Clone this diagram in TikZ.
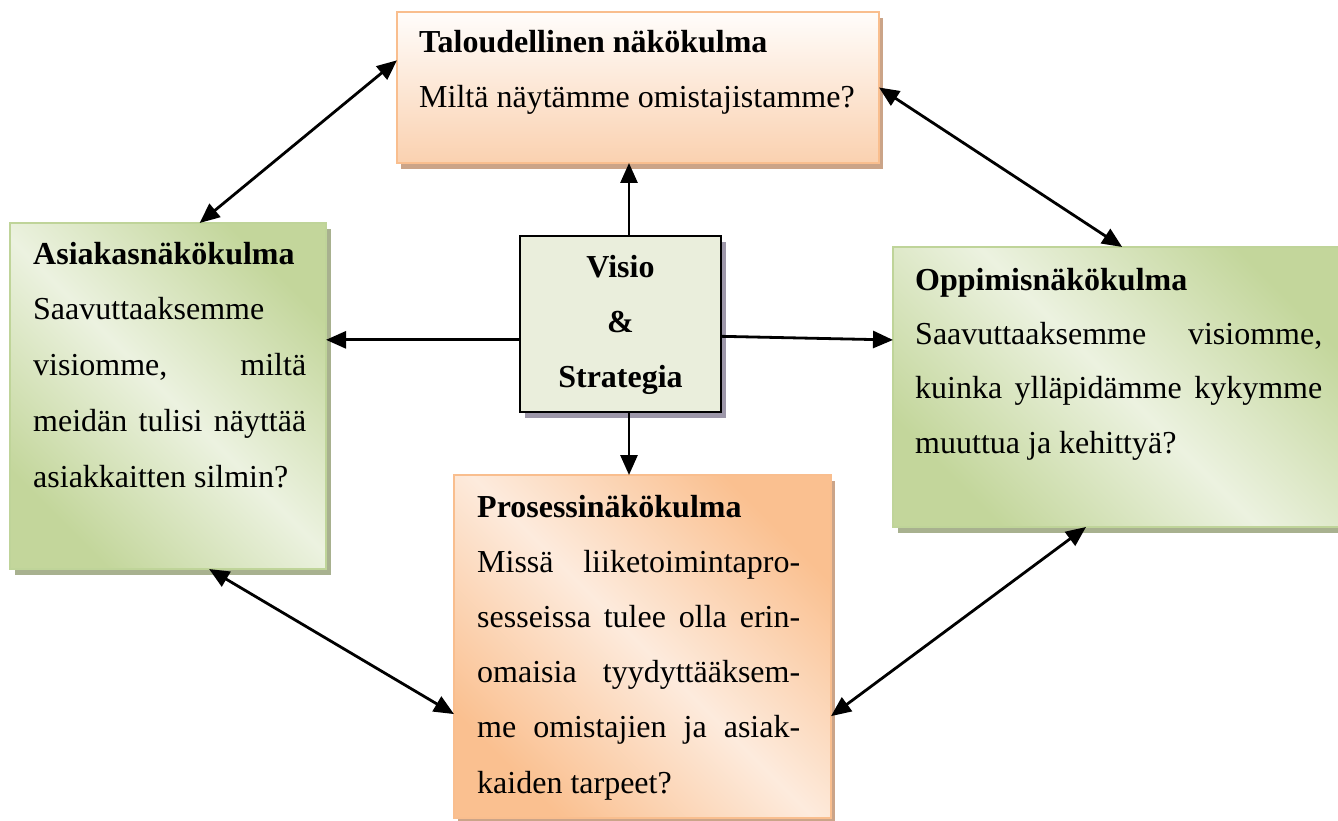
\documentclass[tikz,border=0pt]{standalone}
\usepackage{fontspec}
\setmainfont{Liberation Serif}
\usetikzlibrary{arrows.meta,calc,shadows}

% palette
\definecolor{gdark}{HTML}{C3D69B}
\definecolor{glight}{HTML}{ECF2E0}
\definecolor{gline}{HTML}{BFD499}
\definecolor{gshade}{HTML}{A8B18F}
\definecolor{odark}{HTML}{FAC090}
\definecolor{olight}{HTML}{FDEBDD}
\definecolor{oline}{HTML}{F9BE8E}
\definecolor{oshade}{HTML}{CBA488}
\definecolor{otop}{HTML}{FFFDFB}
\definecolor{obottom}{HTML}{FAD1B0}
\definecolor{cfill}{HTML}{EAEEDC}
\definecolor{cshade}{HTML}{9D97A9}

% corner-to-corner shadings: darker corners, light diagonal band
\pgfdeclarehorizontalshading{greendiag}{100bp}{color(0bp)=(gdark); color(25bp)=(gdark); color(50bp)=(glight); color(75bp)=(gdark); color(100bp)=(gdark)}
\pgfdeclarehorizontalshading{orangediag}{100bp}{color(0bp)=(odark); color(25bp)=(odark); color(50bp)=(olight); color(75bp)=(odark); color(100bp)=(odark)}

\tikzset{
  box/.style={anchor=north west, inner sep=0pt, outer sep=0pt, line width=1.6pt},
  gbox/.style={box, draw=gline, shade, shading=greendiag, shading angle=45,
    drop shadow={shadow xshift=5pt, shadow yshift=-6pt, fill=gshade, opacity=1}},
  obox/.style={box, draw=oline, shade, shading=orangediag, shading angle=45,
    drop shadow={shadow xshift=4pt, shadow yshift=-6pt, fill=oshade, opacity=1}},
  topbox/.style={box, draw=oline, top color=otop, bottom color=obottom,
    drop shadow={shadow xshift=4pt, shadow yshift=-6pt, fill=oshade, opacity=1}},
  corebox/.style={box, draw=black, line width=2.8pt, fill=cfill,
    drop shadow={shadow xshift=5pt, shadow yshift=-6pt, fill=cshade, opacity=1}},
  txt/.style={anchor=base west, inner sep=0pt, font=\fontsize{32}{#1}\selectfont},
  dbl/.style={{Triangle[length=20pt,width=17pt]}-{Triangle[length=20pt,width=17pt]}, line width=2.8pt},
  sgl/.style={-{Triangle[length=20pt,width=17pt]}, line width=2.8pt},
}

\begin{document}
\begin{tikzpicture}[x=1pt,y=-1pt]
\path[use as bounding box, fill=white] (0,0) rectangle (1338,821);

% boxes
\node[topbox, minimum width=482pt, minimum height=151pt] (T) at (397,12) {};
\node[gbox, minimum width=316pt, minimum height=346pt] (L) at (10,223) {};
\node[gbox, minimum width=452pt, minimum height=280pt] (R) at (893,247) {};
\node[obox, minimum width=377pt, minimum height=343pt] (B) at (454,475) {};
\node[corebox, minimum width=201pt, minimum height=176pt] (C) at (520,236) {};

% texts
\node[txt=55] (Ttxt) at (419,53) {\vtop{%
  \hbox{\textbf{Taloudellinen näkökulma}}
  \hbox{Miltä näytämme omistajistamme?}}};

\node[txt=55.75] (Ltxt) at (33,264) {\vtop{%
  \hbox to 273pt{\textbf{Asiakasnäkökulma}\hfil}
  \hbox to 273pt{Saavuttaaksemme\hfil}
  \hbox to 273pt{visiomme,\hfill miltä}
  \hbox to 273pt{meidän\hfill tulisi\hfill näyttää}
  \hbox to 273pt{asiakkaitten silmin?\hfil}}};

\node[txt=54.4] (Rtxt) at (915,290) {\vtop{%
  \hbox to 407pt{\textbf{Oppimisnäkökulma}\hfil}
  \hbox to 407pt{Saavuttaaksemme\hfill visiomme,}
  \hbox to 407pt{kuinka\hfill ylläpidämme\hfill kykymme}
  \hbox to 407pt{muuttua ja kehittyä?\hfil}}};

\node[txt=55.2] (Btxt) at (477,517) {\vtop{%
  \hbox to 323pt{\textbf{Prosessinäkökulma}\hfil}
  \hbox to 323pt{Missä\hfill liiketoimintapro-}
  \hbox to 323pt{sesseissa\hfill tulee\hfill olla\hfill erin-}
  \hbox to 323pt{omaisia\hfill tyydyttääksem-}
  \hbox to 323pt{me\hfill omistajien\hfill ja\hfill asiak-}
  \hbox to 323pt{kaiden tarpeet?\hfil}}};

\node[txt=55, anchor=base] (Ctxt) at (620.5,277) {\vtop{%
  \hbox to 200pt{\hfil\textbf{Visio}\hfil}
  \hbox to 200pt{\hfil\textbf{\&}\hfil}
  \hbox to 200pt{\hfil\textbf{Strategia}\hfil}}};

% connector end points on the box edges
\coordinate (tl1) at ($(T.north west)!0.32!(T.south west)$);
\coordinate (tl2) at ($(L.north west)!0.60!(L.north east)$);
\coordinate (tr1) at ($(T.north east)!0.50!(T.south east)$);
\coordinate (tr2) at ($(R.north west)!0.507!(R.north east)$);
\coordinate (cu)  at ($(C.north)+(8.5,0)$);
\coordinate (cd)  at ($(C.south)+(8.5,0)$);
\coordinate (cl)  at ($(C.north west)!0.59!(C.south west)$);
\coordinate (cr1) at ($(C.north east)!0.57!(C.south east)$);
\coordinate (cr2) at ($(R.north west)!0.332!(R.south west)$);
\coordinate (lb1) at ($(L.south west)!0.63!(L.south east)$);
\coordinate (lb2) at ($(B.north west)!0.697!(B.south west)$);
\coordinate (br1) at ($(B.north east)!0.703!(B.south east)$);
\coordinate (br2) at ($(R.south west)!0.427!(R.south east)$);

% connectors
\draw[dbl] (tl1) -- (tl2);
\draw[dbl] (tr1) -- (tr2);
\draw[dbl] (lb1) -- (lb2);
\draw[dbl] (br1) -- (br2);
\draw[sgl] (cu) -- (cu |- T.south);
\draw[sgl] (cd) -- (cd |- B.north);
\draw[sgl] (cl) -- (cl -| L.east);
\draw[sgl] (cr1) -- (cr2);
\end{tikzpicture}
\end{document}
